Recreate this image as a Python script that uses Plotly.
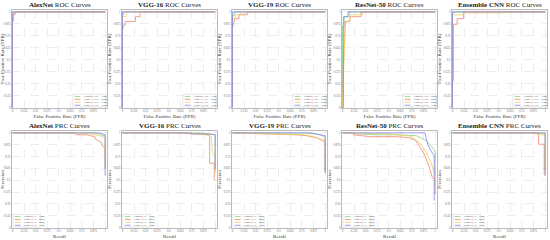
import plotly.graph_objects as go
from plotly.subplots import make_subplots

FONT = "Liberation Serif"
CLASS_COLORS = ["#86D386", "#F4876A", "#F0CF5C", "#8585EE"]
CLASS_NAMES = ["Class 0", "Class 1", "Class 2", "Class 3"]
MODELS = ["AlexNet", "VGG-16", "VGG-19", "ResNet-50", "Ensemble CNN"]

# ROC curves, one list per class (green, orange, yellow, blue)
ALEXNET_FPR = [[0, 0, 0.01, 0.01, 1], [0, 0, 0.01, 0.01, 0.03, 0.03, 1],
               [0, 0, 0.02, 0.02, 1], [0, 0, 1]]
ALEXNET_TPR = [[0, 0.97, 0.97, 1, 1], [0, 0.90, 0.90, 0.97, 0.97, 1, 1],
               [0, 0.98, 0.98, 1, 1], [0, 1, 1]]
VGG16_FPR = [[0, 0, 0.01, 0.01, 1], [0, 0, 0.01, 0.03, 0.03, 0.14, 0.14, 0.19, 0.19, 1],
             [0, 0, 0.04, 0.04, 1], [0, 0, 1]]
VGG16_TPR = [[0, 0.97, 0.97, 1, 1], [0, 0.80, 0.86, 0.86, 0.90, 0.90, 0.95, 0.95, 1, 1],
             [0, 0.95, 0.95, 1, 1], [0, 1, 1]]
VGG19_FPR = [[0, 0, 0.02, 0.02, 1], [0, 0, 0.02, 0.02, 0.07, 0.07, 0.16, 0.16, 1],
             [0, 0, 0.03, 0.03, 0.09, 0.09, 1], [0, 0, 1]]
VGG19_TPR = [[0, 0.96, 0.96, 1, 1], [0, 0.84, 0.90, 0.93, 0.93, 0.97, 0.97, 1, 1],
             [0, 0.93, 0.93, 0.97, 0.97, 1, 1], [0, 1, 1]]
RESNET_FPR = [[0, 0, 0.02, 0.02, 0.07, 0.07, 1],
              [0, 0.01, 0.03, 0.03, 0.08, 0.08, 0.20, 0.20, 1],
              [0, 0.005, 0.02, 0.03, 0.03, 0.08, 0.08, 0.22, 0.22, 1],
              [0, 0.01, 0.01, 0.06, 0.06, 1]]
RESNET_TPR = [[0, 0.85, 0.85, 0.95, 0.95, 1, 1],
              [0, 0.45, 0.88, 0.90, 0.90, 0.95, 0.95, 1, 1],
              [0, 0.20, 0.60, 0.88, 0.88, 0.92, 0.97, 0.97, 1, 1],
              [0, 0, 0.95, 0.95, 1, 1]]
ENSEMBLE_FPR = [[0, 0, 0.01, 0.01, 1], [0, 0, 0.01, 0.01, 0.05, 0.05, 0.12, 0.12, 1],
                [0, 0, 0.12, 0.12, 0.54, 0.54, 1], [0, 0, 1]]
ENSEMBLE_TPR = [[0, 0.99, 0.99, 1, 1], [0, 0.28, 0.28, 0.87, 0.87, 0.93, 0.93, 1, 1],
                [0, 0.97, 0.97, 0.99, 0.99, 1, 1], [0, 1, 1]]

# Precision-recall curves
ALEXNET_REC = [[0, 0.90, 0.90, 0.96, 0.96, 1.0, 1.0],
               [0, 0.66, 0.70, 0.80, 0.89, 0.90, 0.96, 0.97, 1.0, 1.0],
               [0, 0.75, 0.85, 0.94, 0.98, 1.0, 1.0],
               [0, 0.93, 0.97, 1.0, 1.0]]
ALEXNET_PREC = [[1, 1, 0.99, 0.99, 0.97, 0.97, 0.62],
                [1, 1, 0.98, 0.98, 0.96, 0.93, 0.90, 0.86, 0.84, 0.64],
                [1, 1, 0.99, 0.97, 0.95, 0.93, 0.70],
                [1, 1, 0.99, 0.98, 0.55]]
VGG16_REC = [[0, 0.85, 0.93, 1.0, 1.0],
             [0, 0.60, 0.75, 0.94, 0.94, 0.99, 0.99, 1.0],
             [0, 0.70, 0.90, 0.96, 0.97, 1.0, 1.0],
             [0, 0.74, 0.74, 0.93, 1.0, 1.0]]
VGG16_PREC = [[1, 1, 0.99, 0.98, 0.60],
              [1, 1, 0.99, 0.98, 0.68, 0.68, 0.52, 0.50],
              [1, 1, 0.98, 0.96, 0.78, 0.76, 0.58],
              [1, 1, 0.99, 0.99, 0.98, 0.62]]
VGG19_REC = [[0, 0.80, 0.90, 0.97, 1.0, 1.0],
             [0, 0.55, 0.70, 0.80, 0.90, 0.95, 1.0, 1.0],
             [0, 0.60, 0.78, 0.88, 0.94, 1.0, 1.0],
             [0, 0.82, 0.90, 0.97, 1.0, 1.0]]
VGG19_PREC = [[1, 1, 0.99, 0.97, 0.95, 0.57],
              [1, 0.99, 0.98, 0.97, 0.95, 0.93, 0.90, 0.60],
              [1, 0.99, 0.98, 0.96, 0.94, 0.92, 0.64],
              [1, 1, 0.99, 0.98, 0.97, 0.58]]
RESNET_REC = [[0, 0.35, 0.55, 0.80, 0.90, 0.96, 1.0, 1.0],
              [0, 0.12, 0.12, 0.30, 0.58, 0.72, 0.79, 0.83, 0.88, 0.93, 0.97, 1.0, 1.0],
              [0, 0.50, 0.72, 0.79, 0.85, 0.90, 0.95, 0.98, 1.0, 1.0],
              [0, 0.89, 0.92, 0.96, 0.99, 0.99, 1.0]]
RESNET_PREC = [[1, 0.98, 0.98, 0.97, 0.92, 0.86, 0.80, 0.45],
               [1, 1, 0.98, 0.96, 0.96, 0.95, 0.92, 0.86, 0.78, 0.66, 0.53, 0.50, 0.35],
               [1, 0.99, 0.97, 0.93, 0.88, 0.80, 0.70, 0.60, 0.55, 0.40],
               [1, 1, 0.88, 0.80, 0.76, 0.29, 0.29]]
ENSEMBLE_REC = [[0, 0.90, 1.0, 1.0], [0, 0.93, 0.93, 0.99, 0.99, 1.0],
                [0, 0.85, 0.96, 1.0, 1.0], [0, 1.0, 1.0]]
ENSEMBLE_PREC = [[1, 1, 0.99, 0.60], [1, 1, 0.88, 0.88, 0.57, 0.55],
                 [1, 1, 0.98, 0.97, 0.62], [1, 1, 0.55]]

AUC = [[1.00, 0.99, 1.00, 1.00], [1.00, 0.98, 1.00, 1.00], [1.00, 0.99, 0.99, 1.00],
       [0.99, 0.98, 0.98, 1.00], [1.00, 0.99, 1.00, 1.00]]
AP = [[1.00, 0.98, 0.99, 1.00], [1.00, 0.97, 0.99, 1.00], [0.99, 0.98, 0.98, 1.00],
      [0.98, 0.94, 0.95, 0.99], [1.00, 0.99, 1.00, 1.00]]

ROC_X = [ALEXNET_FPR, VGG16_FPR, VGG19_FPR, RESNET_FPR, ENSEMBLE_FPR]
ROC_Y = [ALEXNET_TPR, VGG16_TPR, VGG19_TPR, RESNET_TPR, ENSEMBLE_TPR]
PRC_X = [ALEXNET_REC, VGG16_REC, VGG19_REC, RESNET_REC, ENSEMBLE_REC]
PRC_Y = [ALEXNET_PREC, VGG16_PREC, VGG19_PREC, RESNET_PREC, ENSEMBLE_PREC]

W, H = 550, 240
fig = make_subplots(rows=2, cols=5)


def add_legend(fig, idx, labels, x0, x1):
    ref = "x" if idx == 1 else f"x{idx}"
    yref = "y" if idx == 1 else f"y{idx}"
    fig.add_shape(type="rect", xref=f"{ref} domain", yref=f"{yref} domain",
                  x0=x0, x1=x1, y0=0.01, y1=0.14,
                  line=dict(color="#CCCCCC", width=0.5), fillcolor="rgba(255,255,255,0.85)")
    for k, text in enumerate(labels):
        yy = 0.118 - k * 0.03
        fig.add_shape(type="line", xref=f"{ref} domain", yref=f"{yref} domain",
                      x0=x0 + 0.02, x1=x0 + 0.08, y0=yy, y1=yy,
                      line=dict(color=CLASS_COLORS[k], width=0.8))
        fig.add_annotation(xref=f"{ref} domain", yref=f"{yref} domain", x=x0 + 0.1, y=yy,
                           text=text, showarrow=False, xanchor="left", yanchor="middle",
                           font=dict(family=FONT, size=2.6, color="#333333"))


for row in (1, 2):
    for col in range(1, 6):
        m = col - 1
        idx = (row - 1) * 5 + col
        xs = ROC_X[m] if row == 1 else PRC_X[m]
        ys = ROC_Y[m] if row == 1 else PRC_Y[m]
        for k in range(4):
            fig.add_trace(go.Scatter(x=xs[k], y=ys[k], mode="lines",
                                     line=dict(color=CLASS_COLORS[k], width=0.8),
                                     showlegend=False), row=row, col=col)
        left = 110 * m + 12
        right = 110 * m + 107
        top, bottom = (10, 108) if row == 1 else (131, 228)
        axis = dict(range=[-0.005, 1.02], dtick=0.125, showgrid=True, gridcolor="#EDEDED",
                    griddash="dash", gridwidth=0.5, zeroline=False, showline=True,
                    linecolor="#BBBBBB", linewidth=0.6, mirror=True, ticks="",
                    tickfont=dict(family=FONT, size=3, color="#666666"), automargin=False)
        fig.update_xaxes(axis, domain=[left / W, right / W], row=row, col=col,
                         title=dict(text="False Positive Rate (FPR)" if row == 1 else "Recall",
                                    font=dict(family=FONT, size=5, color="#333333"), standoff=2))
        fig.update_yaxes(axis, domain=[1 - bottom / H, 1 - top / H], row=row, col=col,
                         title=dict(text="True Positive Rate (TPR)" if row == 1 else "Precision",
                                    font=dict(family=FONT, size=5, color="#333333"), standoff=2))
        kind = "ROC" if row == 1 else "PRC"
        fig.add_annotation(xref="paper", yref="paper", x=(left + right) / 2 / W,
                           y=1 - (top - 5) / H, text=f"<b>{MODELS[m]}</b> {kind} Curves",
                           showarrow=False, xanchor="center", yanchor="middle",
                           font=dict(family=FONT, size=7, color="#222222"))
        if row == 1:
            labels = [f"{CLASS_NAMES[k]} (AUC = {AUC[m][k]:.2f})" for k in range(4)]
            add_legend(fig, idx, labels, 0.64, 0.99)
        else:
            labels = [f"{CLASS_NAMES[k]} (AP = {AP[m][k]:.2f})" for k in range(4)]
            add_legend(fig, idx, labels, 0.01, 0.30)

fig.update_layout(width=W, height=H, margin=dict(l=0, r=0, t=0, b=0),
                  plot_bgcolor="white", paper_bgcolor="white",
                  font=dict(family=FONT), showlegend=False)
fig.write_html("out.html", config={"displayModeBar": False},
               post_script="document.body.style.margin='0';")
